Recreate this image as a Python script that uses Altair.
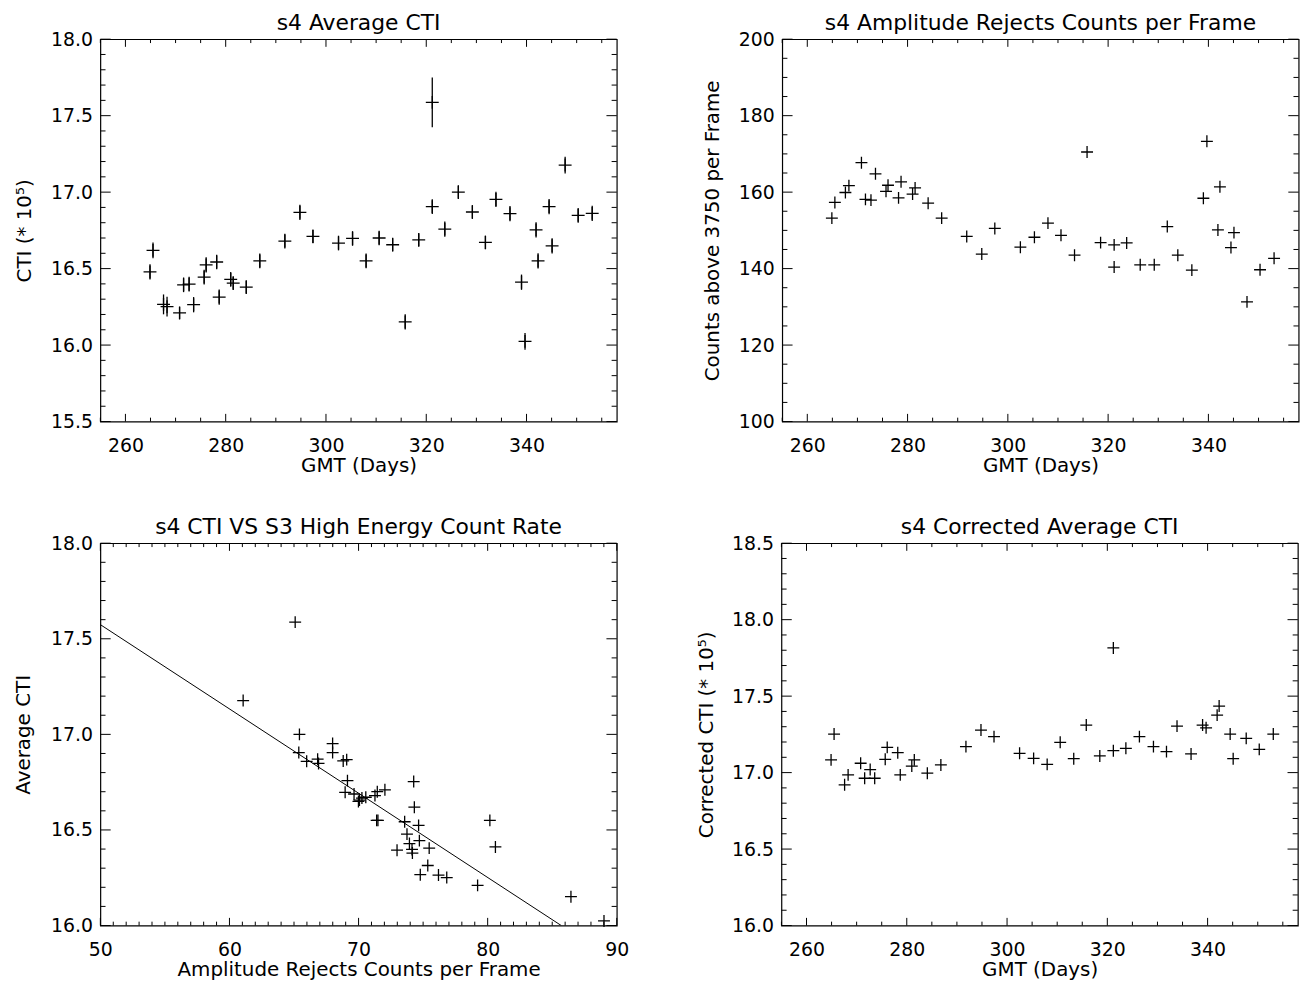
import altair as alt
import pandas as pd

# ---------------- data ----------------
days = [264.9, 265.5, 267.6, 268.3, 270.8, 271.6, 272.7, 273.6, 275.7, 276.1,
        278.2, 278.7, 281.0, 281.5, 284.1, 286.8, 291.8, 294.8, 297.4, 302.5,
        305.3, 308.0, 310.6, 313.3, 315.8, 318.5, 321.2, 321.2, 323.7, 326.4,
        329.2, 331.8, 333.9, 336.7, 339.0, 339.7, 341.9, 342.3, 344.5, 345.1,
        347.7, 350.3, 353.1]

cti = [16.478, 16.619, 16.266, 16.251, 16.210, 16.394, 16.398, 16.264, 16.444, 16.524,
       16.543, 16.314, 16.429, 16.405, 16.379, 16.550, 16.680, 16.868, 16.710, 16.667,
       16.697, 16.550, 16.700, 16.656, 16.151, 16.688, 17.587, 16.905, 16.758, 17.000,
       16.870, 16.671, 16.952, 16.859, 16.411, 16.024, 16.753, 16.550, 16.905, 16.649,
       17.177, 16.848, 16.861]

cti_err = [0.050, 0.052, 0.065, 0.065, 0.040, 0.048, 0.048, 0.050, 0.048, 0.050,
           0.048, 0.050, 0.048, 0.045, 0.045, 0.048, 0.048, 0.050, 0.045, 0.048,
           0.048, 0.048, 0.048, 0.045, 0.050, 0.045, 0.162, 0.048, 0.050, 0.045,
           0.045, 0.045, 0.050, 0.050, 0.050, 0.055, 0.050, 0.050, 0.050, 0.050,
           0.055, 0.048, 0.050]

rejects = [153.2, 157.3, 159.9, 161.7, 167.7, 158.1, 157.9, 164.8, 160.2, 161.8,
           158.5, 162.7, 159.5, 161.1, 157.1, 153.2, 148.4, 143.8, 150.5, 145.6,
           148.2, 151.9, 148.7, 143.5, 170.5, 146.8, 140.4, 146.2, 146.7, 141.0,
           141.0, 151.0, 143.5, 139.6, 158.4, 173.3, 150.1, 161.4, 145.5, 149.4,
           131.3, 139.7, 142.7]

s3_rate = [73.75, 74.32, 74.78, 76.83, 79.22, 72.98, 74.14, 76.19, 74.71, 74.65,
           73.57, 75.36, 73.94, 75.47, 74.17, 71.40, 71.27, 69.08, 72.04, 70.26,
           68.96, 71.50, 71.45, 70.07, 86.45, 69.65, 65.09, 65.37, 69.14, 65.42,
           66.83, 70.56, 67.99, 65.98, 80.60, 89.01, 74.27, 80.17, 67.99, 69.99,
           61.06, 66.90, 68.81]

cti_corr = [17.083, 17.252, 16.920, 16.985, 17.061, 16.963, 17.020, 16.963, 17.087, 17.165,
            17.130, 16.985, 17.043, 17.083, 16.996, 17.050, 17.170, 17.278, 17.235, 17.126,
            17.093, 17.054, 17.198, 17.091, 17.311, 17.109, 17.815, 17.143, 17.159, 17.235,
            17.170, 17.137, 17.304, 17.122, 17.311, 17.293, 17.376, 17.435, 17.252, 17.091,
            17.224, 17.152, 17.252]

fit_x = [50.0, 85.7]
fit_y = [17.574, 16.0]

# tick values
day_major = [260, 280, 300, 320, 340]
day_minor = [v for v in range(255, 360, 5) if v not in day_major]
cti_major = [15.5, 16.0, 16.5, 17.0, 17.5, 18.0]
cti_major_bl = [16.0, 16.5, 17.0, 17.5, 18.0]
corr_major = [16.0, 16.5, 17.0, 17.5, 18.0, 18.5]
rej_major = [100, 120, 140, 160, 180, 200]
rej_minor = [v for v in range(100, 201, 5) if v not in rej_major]
rate_major = [50, 60, 70, 80, 90]
rate_minor = [v for v in range(50, 91) if v not in rate_major]


def tenths(lo, hi, majors):
    out = []
    k = int(round(lo * 10))
    while k <= int(round(hi * 10)):
        v = k / 10.0
        if all(abs(v - m) > 1e-6 for m in majors):
            out.append(v)
        k += 1
    return out


# ---------------- styling ----------------
FONT = "DejaVu Sans"
W, H = 520, 385
XT_MAJ, XT_MIN = 7.7, 3.9     # tick length of x-axis ticks (vertical)
YT_MAJ, YT_MIN = 10.4, 5.2    # tick length of y-axis ticks (horizontal)
PLUS = "M-1,0L1,0M0,-1L0,1"


def panel(df, xf, yf, xdom, ydom, xmaj, xmin, ymaj, ymin, xtitle, ytitle, title,
          yfmt, xfmt, ytp, sym=144, extra=None):
    xscale = alt.Scale(domain=xdom, nice=False, zero=False)
    yscale = alt.Scale(domain=ydom, nice=False, zero=False)
    xaxis = alt.Axis(values=xmaj, format=xfmt, ticks=False, tickSize=0, domain=False,
                     grid=False, labelPadding=15, titlePadding=0, labelFlush=False,
                     labelOverlap=False, labelFont=FONT, labelFontSize=19,
                     labelColor="black", titleFont=FONT, titleFontSize=20,
                     titleFontWeight="normal", titleColor="black")
    yaxis = alt.Axis(values=ymaj, format=yfmt, ticks=False, tickSize=0, domain=False,
                     grid=False, labelPadding=8, minExtent=50, maxExtent=50,
                     titlePadding=ytp, labelFlush=False, labelOverlap=False,
                     labelFont=FONT, labelFontSize=19, labelColor="black",
                     titleFont=FONT, titleFontSize=20, titleFontWeight="normal",
                     titleColor="black")

    def X(f):
        return alt.X(f, type="quantitative", scale=xscale, axis=xaxis, title=xtitle)

    def Y(f):
        return alt.Y(f, type="quantitative", scale=yscale, axis=yaxis, title=ytitle)

    pts = alt.Chart(df).mark_point(shape=PLUS, size=sym, filled=False, stroke="black",
                                   strokeWidth=1.3, opacity=1).encode(x=X(xf), y=Y(yf))
    layers = [pts]
    if extra is not None:
        for e in extra:
            layers.append(e(X, Y))

    def xt(vals, ln):
        d = pd.DataFrame({"v": vals})
        b = alt.Chart(d).mark_rule(color="black", strokeWidth=1).encode(
            x=X("v"), y=alt.value(H), y2=alt.value(H - ln))
        t = alt.Chart(d).mark_rule(color="black", strokeWidth=1).encode(
            x=X("v"), y=alt.value(0), y2=alt.value(ln))
        return [b, t]

    def yt(vals, ln):
        d = pd.DataFrame({"v": vals})
        l = alt.Chart(d).mark_rule(color="black", strokeWidth=1).encode(
            y=Y("v"), x=alt.value(0), x2=alt.value(ln))
        r = alt.Chart(d).mark_rule(color="black", strokeWidth=1).encode(
            y=Y("v"), x=alt.value(W), x2=alt.value(W - ln))
        return [l, r]

    layers += xt(xmaj, XT_MAJ) + xt(xmin, XT_MIN) + yt(ymaj, YT_MAJ) + yt(ymin, YT_MIN)
    return alt.layer(*layers).properties(
        width=W, height=H,
        title=alt.TitleParams(title, fontSize=22, font=FONT, fontWeight="normal",
                              color="black", offset=-5))


df = pd.DataFrame({"day": days, "cti": cti, "err": cti_err, "rej": rejects,
                   "rate": s3_rate, "corr": cti_corr})
df["lo"] = df["cti"] - df["err"]
df["hi"] = df["cti"] + df["err"]
fit_df = pd.DataFrame({"fx": fit_x, "fy": fit_y})


def errbars(X, Y):
    return alt.Chart(df).mark_rule(color="black", strokeWidth=1.3).encode(
        x=X("day"), y=Y("lo"), y2=alt.Y2("hi"))


def fitline(X, Y):
    return alt.Chart(fit_df).mark_line(color="black", strokeWidth=1, clip=True).encode(
        x=X("fx"), y=Y("fy"))


tl = panel(df, "day", "cti", [255, 358], [15.5, 18.0], day_major, day_minor,
           cti_major, tenths(15.5, 18.0, cti_major), "GMT (Days)", "CTI (* 10\u2075)",
           "s4 Average CTI", ".1f", "d", 16.5, sym=169, extra=[errbars])
tr = panel(df, "day", "rej", [255, 358], [100, 200], day_major, day_minor,
           rej_major, rej_minor, "GMT (Days)", "Counts above 3750 per Frame",
           "s4 Amplitude Rejects Counts per Frame", "d", "d", 10.2)
bl = panel(df, "rate", "cti", [50, 90], [16.0, 18.0], rate_major, rate_minor,
           cti_major_bl, tenths(16.0, 18.0, cti_major_bl),
           "Amplitude Rejects  Counts per Frame", "Average CTI",
           "s4 CTI VS S3 High Energy Count Rate", ".1f", "d", 17.0, extra=[fitline])
br = panel(df, "day", "corr", [255, 358], [16.0, 18.5], day_major, day_minor,
           corr_major, tenths(16.0, 18.5, corr_major), "GMT (Days)",
           "Corrected CTI (* 10\u2075)", "s4 Corrected Average CTI", ".1f", "d", 15.0)

row1 = alt.hconcat(tl, tr, spacing=83.6)
row2 = alt.hconcat(bl, br, spacing=66.8)
chart = alt.vconcat(row1, row2, spacing=39.5).properties(
    padding={"left": 5, "top": 0, "right": 5, "bottom": 5},
    background="white"
).configure_view(stroke="black", strokeWidth=1.2)

chart.save("out.html", embed_options={"renderer": "svg", "actions": False})
